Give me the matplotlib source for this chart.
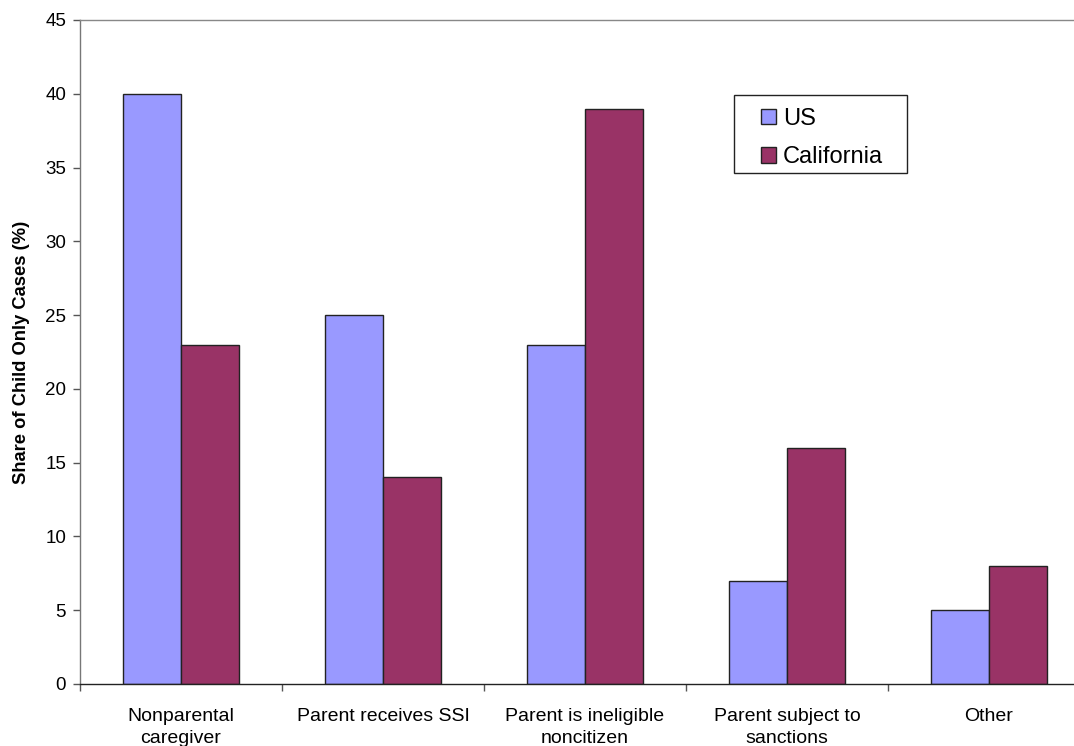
import matplotlib
matplotlib.use("Agg")
import matplotlib.pyplot as plt
from matplotlib.patches import Rectangle
import numpy as np

categories = ["Nonparental\ncaregiver", "Parent receives SSI", "Parent is ineligible\nnoncitizen",
              "Parent subject to\nsanctions", "Other"]
us = [40, 25, 23, 7, 5]
california = [23, 14, 39, 16, 8]

plt.rcParams['font.family'] = ['Liberation Sans', 'DejaVu Sans']

fig = plt.figure(figsize=(10.74, 7.46), dpi=100)
ax = fig.add_axes([80 / 1074, (746 - 684) / 746, 1010 / 1074, 664 / 746])

x = np.arange(len(categories))
w = 0.287
ax.bar(x - w / 2, us, width=w, color="#9999FF", edgecolor="#222222", linewidth=1.0, label="US")
ax.bar(x + w / 2, california, width=w, color="#993366", edgecolor="#222222", linewidth=1.0, label="California")

ax.set_xlim(-0.5, len(categories) - 0.5)
ax.set_ylim(0, 45)
ax.set_yticks(np.arange(0, 46, 5))
ax.tick_params(axis='y', labelsize=13.5, length=5, width=1, color="#555555", pad=5)

# boundary ticks between groups, labels centred on groups
ax.set_xticks(np.arange(-0.5, len(categories) - 0.4, 1.0))
ax.set_xticklabels([])
ax.tick_params(axis='x', which='major', length=5, width=1, color="#555555")
ax.set_xticks(x, minor=True)
ax.set_xticklabels(categories, minor=True, fontsize=14, linespacing=1.35)
ax.tick_params(axis='x', which='minor', length=0, pad=17.5)

ax.spines['left'].set_color("#777777")
ax.spines['top'].set_color("#888888")
ax.spines['right'].set_visible(False)
ax.spines['bottom'].set_color("#222222")
for s in ax.spines.values():
    s.set_linewidth(1.0)

ax.set_ylabel("Share of Child Only Cases (%)", fontsize=13.2, fontweight='bold', labelpad=11)

# legend entries, with a separate box drawn around them
leg = ax.legend(loc='center left', bbox_to_anchor=((761 - 80) / 1010, (684 - 138) / 664),
                fontsize=17, frameon=False,
                handlelength=0.62, handleheight=0.62, handletextpad=0.3,
                labelspacing=0.7, borderpad=0, borderaxespad=0)
ax.add_patch(Rectangle(((734 - 80) / 1010, (684 - 173) / 664), 173 / 1010, 78 / 664,
                       transform=ax.transAxes, fill=False, edgecolor="#222222",
                       linewidth=1.0, zorder=4, clip_on=False))

fig.savefig("out.png", dpi=100)
